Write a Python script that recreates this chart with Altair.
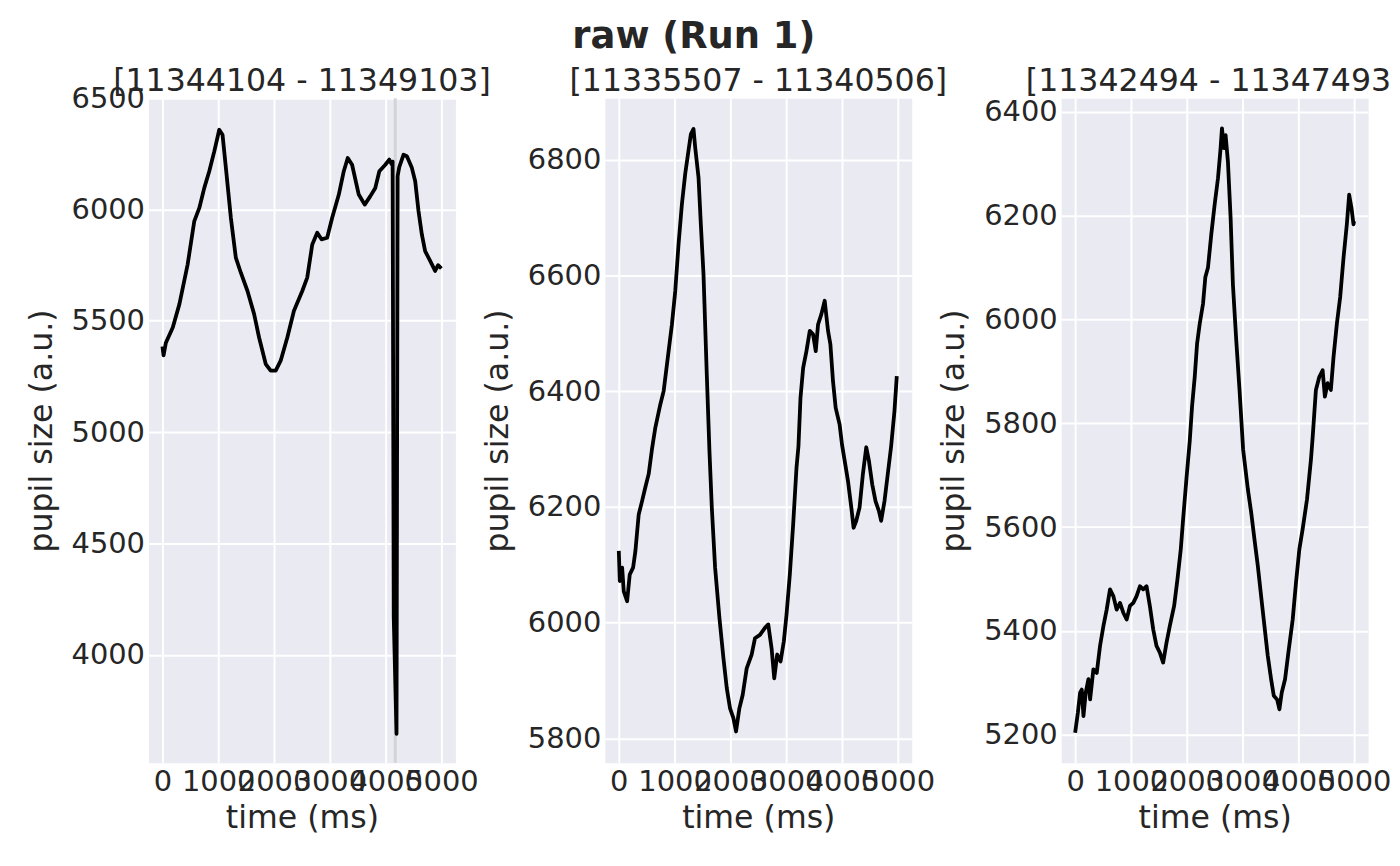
import altair as alt
import pandas as pd

# ---- data ----
titles = ["[11344104 - 11349103]", "[11335507 - 11340506]", "[11342494 - 11347493]"]

t1 = [0, 20, 60, 185, 304, 452, 571, 661, 750, 839, 929, 1018, 1077, 1149, 1226, 1315,
      1405, 1524, 1643, 1732, 1851, 1940, 2030, 2119, 2238, 2357, 2506, 2595, 2685, 2774,
      2851, 2952, 3042, 3161, 3250, 3321, 3399, 3518, 3625, 3726, 3815, 3887, 3994, 4065,
      4113, 4125, 4145, 4195, 4215, 4244, 4321, 4381, 4470, 4530, 4589, 4649, 4708, 4798,
      4887, 4940, 4999]
v1 = [5385, 5345, 5400, 5470, 5575, 5754, 5948, 6007, 6097, 6172, 6261, 6358, 6336, 6157,
      5963, 5784, 5716, 5634, 5530, 5425, 5306, 5276, 5276, 5321, 5425, 5545, 5634, 5694,
      5843, 5896, 5866, 5873, 5963, 6067, 6172, 6231, 6201, 6067, 6022, 6060, 6097, 6172,
      6201, 6224, 6201, 6215, 4170, 3645, 6150, 6190, 6246, 6239, 6187, 6127, 5993, 5888,
      5813, 5769, 5724, 5750, 5735]

t2 = [0, 18, 60, 89, 149, 196, 256, 298, 357, 417, 476, 536, 595, 655, 744, 804, 863, 952,
      1012, 1071, 1131, 1190, 1250, 1292, 1339, 1369, 1429, 1470, 1518, 1577, 1625, 1667,
      1726, 1804, 1875, 1935, 1994, 2054, 2101, 2161, 2220, 2292, 2381, 2440, 2530, 2619,
      2679, 2738, 2786, 2839, 2899, 2958, 3006, 3065, 3125, 3185, 3220, 3256, 3304, 3363,
      3423, 3482, 3530, 3571, 3631, 3690, 3750, 3792, 3839, 3887, 3958, 4000, 4048, 4107,
      4167, 4208, 4256, 4315, 4375, 4435, 4482, 4542, 4601, 4661, 4702, 4762, 4821, 4881,
      4940, 4982]
v2 = [6124, 6072, 6095, 6054, 6037, 6083, 6095, 6124, 6187, 6210, 6234, 6257, 6300, 6337,
      6377, 6400, 6446, 6515, 6573, 6654, 6723, 6775, 6816, 6844, 6853, 6821, 6769, 6689,
      6602, 6429, 6296, 6199, 6095, 6008, 5939, 5887, 5852, 5835, 5812, 5852, 5875, 5921,
      5945, 5973, 5979, 5991, 5997, 5956, 5904, 5945, 5933, 5968, 6014, 6083, 6170, 6268,
      6305, 6388, 6440, 6469, 6504, 6498, 6469, 6515, 6533, 6556, 6504, 6481, 6417, 6371,
      6342, 6308, 6280, 6245, 6199, 6164, 6176, 6199, 6257, 6303, 6280, 6239, 6210, 6193,
      6176, 6210, 6257, 6305, 6365, 6426]

t3 = [0, 48, 89, 119, 149, 190, 238, 268, 327, 387, 446, 506, 565, 625, 685, 744, 804, 863,
      923, 982, 1042, 1101, 1161, 1220, 1280, 1339, 1399, 1458, 1518, 1577, 1637, 1696,
      1774, 1833, 1893, 1935, 1994, 2054, 2095, 2143, 2185, 2232, 2292, 2333, 2381, 2440,
      2500, 2560, 2607, 2631, 2667, 2696, 2738, 2786, 2827, 2887, 2946, 3010, 3095, 3155,
      3214, 3274, 3333, 3393, 3452, 3512, 3560, 3619, 3661, 3702, 3762, 3821, 3899, 3958,
      4018, 4077, 4155, 4226, 4256, 4315, 4375, 4435, 4476, 4524, 4583, 4631, 4690, 4750,
      4810, 4869, 4911, 4952, 4988, 4999]
v3 = [5204, 5242, 5281, 5287, 5236, 5281, 5307, 5268, 5326, 5319, 5371, 5409, 5441, 5480,
      5467, 5441, 5454, 5435, 5422, 5448, 5454, 5467, 5486, 5480, 5486, 5448, 5403, 5371,
      5358, 5339, 5377, 5409, 5448, 5499, 5557, 5615, 5692, 5766, 5832, 5889, 5953, 5991,
      6030, 6081, 6100, 6164, 6221, 6272, 6330, 6368, 6330, 6355, 6304, 6196, 6068, 5960,
      5864, 5750, 5673, 5628, 5576, 5525, 5467, 5409, 5352, 5307, 5275, 5268, 5249, 5281,
      5307, 5358, 5422, 5493, 5557, 5596, 5653, 5730, 5772, 5864, 5889, 5902, 5851, 5877,
      5864, 5928, 5991, 6043, 6119, 6183, 6240, 6215, 6183, 6189]

band_start = [4145]
band_end = [4200]

x_ticks = [0, 1000, 2000, 3000, 4000, 5000]
y_ticks = [
    [4000, 4500, 5000, 5500, 6000, 6500],
    [5800, 6000, 6200, 6400, 6600, 6800],
    [5200, 5400, 5600, 5800, 6000, 6200, 6400],
]
y_domains = [[3515, 6500], [5758, 6906], [5146, 6426]]
x_domain = [-250, 5250]
title_offsets = [-39, -25, -25]

FONT = "DejaVu Sans"
TXT = "#262626"
W, H = 308, 667


def panel(t, v, i, band=False):
    df = pd.DataFrame({"t": t, "v": v})
    xenc = alt.X("t:Q", scale=alt.Scale(domain=x_domain, nice=False, zero=False),
                 axis=alt.Axis(values=x_ticks, title="time (ms)", labelOverlap=False,
                               labelFlush=False, labelBound=False, format="d",
                               labelPadding=5, titlePadding=6))
    yenc = alt.Y("v:Q", scale=alt.Scale(domain=y_domains[i], nice=False, zero=False),
                 axis=alt.Axis(values=y_ticks[i], title="pupil size (a.u.)", labelOverlap=False,
                               labelFlush=False, labelBound=False, format="d",
                               labelPadding=4, titlePadding=13))
    line = alt.Chart(df).mark_line(color="black", strokeWidth=3.8, clip=True,
                                   strokeJoin="round").encode(x=xenc, y=yenc)
    layers = []
    if band:
        bdf = pd.DataFrame({"s": band_start, "e": band_end})
        rect = alt.Chart(bdf).mark_rect(color="#d4d4d8").encode(
            x=alt.X("s:Q", scale=alt.Scale(domain=x_domain, nice=False, zero=False)),
            x2="e:Q")
        layers.append(rect)
    layers.append(line)
    ch = alt.layer(*layers).properties(
        width=W, height=H,
        title=alt.TitleParams(titles[i], fontSize=31.7, fontWeight="normal", font=FONT,
                              color=TXT, frame="group", anchor="middle",
                              baseline="alphabetic", offset=title_offsets[i]),
    )
    return ch


chart = alt.hconcat(
    panel(t1, v1, 0, band=True),
    panel(t2, v2, 1),
    panel(t3, v3, 2),
    spacing=150,
    bounds="flush",
).properties(
    title=alt.TitleParams("raw (Run 1)", fontSize=37, fontWeight="bold", font=FONT,
                          color=TXT, anchor="middle", offset=10, dx=-21),
    padding={"left": 17, "top": 8, "right": -12, "bottom": 0},
    background="white",
).resolve_scale(y="independent", x="independent").configure_view(
    fill="#EAEAF2", stroke="transparent"
).configure_axis(
    domain=False, ticks=False, grid=True, gridColor="white", gridWidth=2,
    labelFont=FONT, labelFontSize=29, labelColor=TXT,
    titleFont=FONT, titleFontSize=31.7, titleFontWeight="normal", titleColor=TXT,
)

chart.save("out.html", embed_options={"renderer": "svg", "actions": False})
